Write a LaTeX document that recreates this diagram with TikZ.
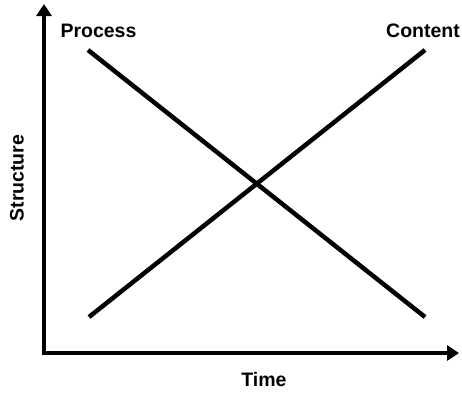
\documentclass[tikz,border=0pt]{standalone}
\usepackage{fontspec}
\setmainfont{Liberation Sans}
\usetikzlibrary{arrows.meta}
\begin{document}
\begin{tikzpicture}[x=1pt,y=-1pt,
  axis/.style={line width=4pt,-{Triangle[length=12pt,width=15pt]}},
  trend/.style={line width=4.5pt},
  lbl/.style={font=\fontsize{19.5}{22}\selectfont\bfseries,inner sep=0pt}]
\useasboundingbox (0,0) rectangle (462,392);
% axes
\coordinate (o) at (44,353);
\coordinate (ytop) at (44,4);
\coordinate (xend) at (459,353);
\draw[axis] ([yshift=-2pt]o) -- (ytop);
\draw[axis] ([xshift=-2pt]o) -- (xend);
% crossing lines
\coordinate (p1) at (88,50);
\coordinate (p2) at (425,317);
\coordinate (c1) at (89,317);
\coordinate (c2) at (425,50);
\draw[trend] (p1) -- (p2);
\draw[trend] (c1) -- (c2);
% labels
\node[lbl] (process) at (98.5,31) {Process};
\node[lbl] (content) at (423,31) {Content};
\node[lbl,rotate=90] (structure) at (17,178) {Structure};
\node[lbl] (time) at (264,380) {Time};
\end{tikzpicture}
\end{document}
